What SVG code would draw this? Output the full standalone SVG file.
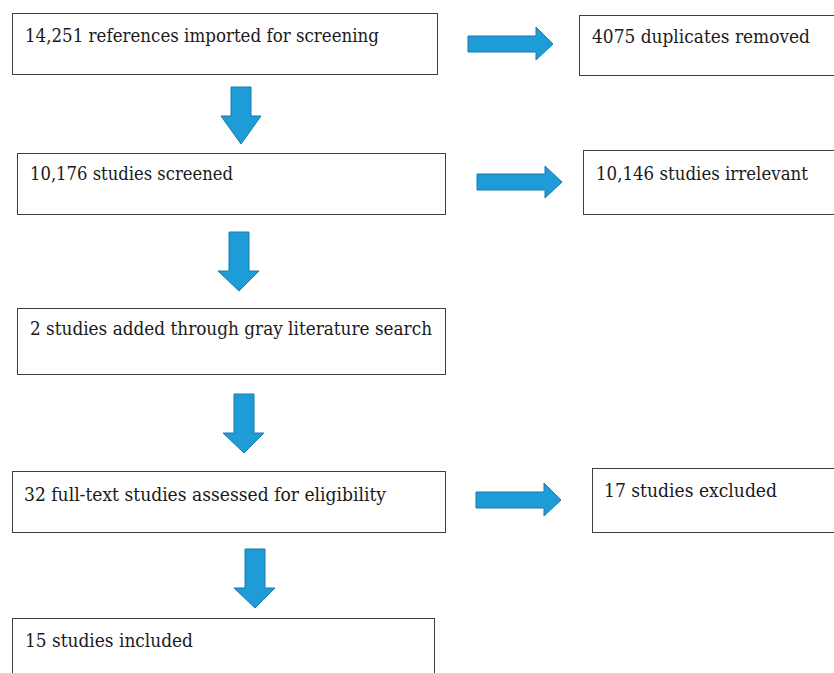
<svg xmlns="http://www.w3.org/2000/svg" width="834" height="673" viewBox="0 0 834 673">
<style>
.box{fill:#ffffff;stroke:#3f3f3f;stroke-width:1}
.t{font-family:"DejaVu Serif","Liberation Serif",serif;font-size:18px;fill:#1a1a1a}
.arr{fill:#1e9cd8;stroke:#1d78ad;stroke-width:1;stroke-linejoin:miter}
</style>
<rect width="834" height="673" fill="#ffffff"/>
<g id="n1"><rect class="box" x="12.5" y="13.5" width="425" height="61"/><text class="t" x="25" y="42" textLength="354" lengthAdjust="spacingAndGlyphs">14,251 references imported for screening</text></g>
<g id="n2"><rect class="box" x="579.5" y="15.5" width="260" height="60"/><text class="t" x="592" y="43" textLength="218" lengthAdjust="spacingAndGlyphs">4075 duplicates removed</text></g>
<g id="n3"><rect class="box" x="17.5" y="153.5" width="428" height="61"/><text class="t" x="30" y="180" textLength="203" lengthAdjust="spacingAndGlyphs">10,176 studies screened</text></g>
<g id="n4"><rect class="box" x="583.5" y="150.5" width="256" height="64"/><text class="t" x="596" y="180" textLength="212" lengthAdjust="spacingAndGlyphs">10,146 studies irrelevant</text></g>
<g id="n5"><rect class="box" x="17.5" y="308.5" width="428" height="66"/><text class="t" x="30" y="335" textLength="402" lengthAdjust="spacingAndGlyphs">2 studies added through gray literature search</text></g>
<g id="n6"><rect class="box" x="12.5" y="471.5" width="433" height="61"/><text class="t" x="24" y="501" textLength="362" lengthAdjust="spacingAndGlyphs">32 full-text studies assessed for eligibility</text></g>
<g id="n7"><rect class="box" x="592.5" y="468.5" width="247" height="64"/><text class="t" x="604" y="497" textLength="173" lengthAdjust="spacingAndGlyphs">17 studies excluded</text></g>
<g id="n8"><rect class="box" x="12.5" y="618.5" width="422" height="70"/><text class="t" x="25" y="647" textLength="168" lengthAdjust="spacingAndGlyphs">15 studies included</text></g>
<g id="connectors">
<polygon class="arr" points="231,87 251,87 251,116 261,116 241,144 221,116 231,116"/>
<polygon class="arr" points="229,232 249,232 249,271 259,271 239,291 218,271 229,271"/>
<polygon class="arr" points="234,394 254,394 254,433 264,433 244,453 223,433 234,433"/>
<polygon class="arr" points="245,549 265,549 265,588 275,588 255,608 234,588 245,588"/>
<polygon class="arr" points="468,36 536,36 536,27 553,44 536,60 536,52 468,52"/>
<polygon class="arr" points="477,174 545,174 545,166 562,182 545,198 545,190 477,190"/>
<polygon class="arr" points="476,492 544,492 544,483 561,500 544,516 544,508 476,508"/>
</g>
</svg>
